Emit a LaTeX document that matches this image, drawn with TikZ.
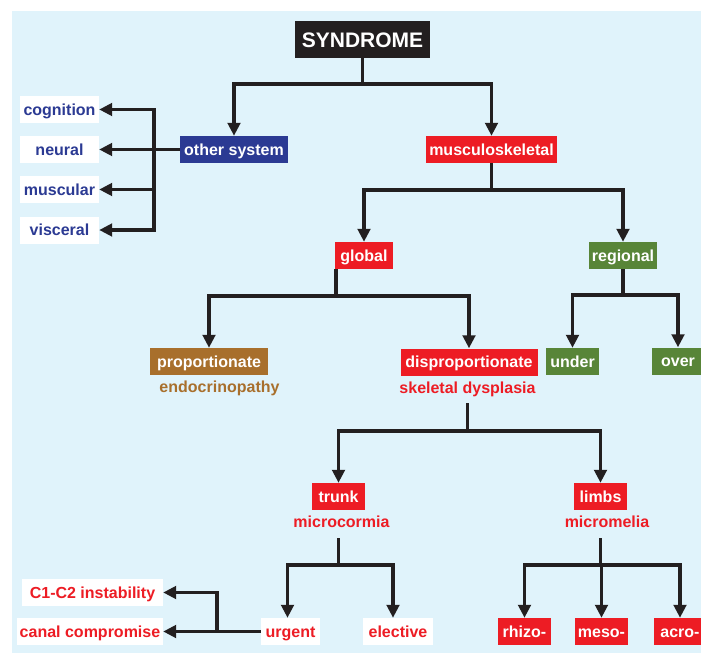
\documentclass[tikz,border=0pt]{standalone}
\usepackage{fontspec}
\setmainfont{Liberation Sans}
\usetikzlibrary{arrows.meta}
\definecolor{bgblue}{HTML}{E0F3FB}
\definecolor{navy}{HTML}{2B3A93}
\definecolor{msred}{HTML}{ED1C24}
\definecolor{leafgreen}{HTML}{588538}
\definecolor{ochre}{HTML}{A86F2C}
\definecolor{ink}{HTML}{231F20}

\begin{document}
\begin{tikzpicture}[x=1pt,y=-1pt,line join=miter,
  box/.style={rectangle,inner sep=0pt,minimum height=27pt,text height=12pt,text depth=1pt,font=\fontsize{16}{18}\selectfont\bfseries},
  red box/.style={box,fill=msred,text=white},
  green box/.style={box,fill=leafgreen,text=white},
  blue box/.style={box,fill=navy,text=white},
  white box/.style={box,fill=white},
  note/.style={inner sep=0pt,font=\fontsize{16}{18}\selectfont\bfseries},
  link/.style={draw=ink,line width=3.7pt},
  arrow/.style={link,-{Triangle[width=12.5pt,length=13pt]}}]
\useasboundingbox (0,0) rectangle (701,653);
\fill[bgblue] (12,11) rectangle (701,653);
% top level
\node[box,fill=ink,text=white,minimum width=135pt,minimum height=37pt,text height=15pt,text depth=0pt,font=\fontsize{21}{24}\selectfont\bfseries] (syn) at (362.5,39.5) {SYNDROME};
\node[blue box,minimum width=108pt] (other) at (234,149.5) {other system};
\node[red box,minimum width=131pt] (musc) at (491.5,149.5) {musculoskeletal};
% other systems
\node[white box,text=navy,minimum width=79pt] (cog) at (59.5,109.5) {cognition};
\node[white box,text=navy,minimum width=79pt] (neur) at (59.5,149.5) {neural};
\node[white box,text=navy,minimum width=79pt] (muscl) at (59.5,189.5) {muscular};
\node[white box,text=navy,minimum width=79pt] (visc) at (59.5,230) {visceral};
% musculoskeletal
\node[red box,minimum width=58pt] (glob) at (364,255.5) {global};
\node[green box,minimum width=68pt] (reg) at (623,255.5) {regional};
\node[box,fill=ochre,text=white,minimum width=118pt] (prop) at (209,361.5) {proportionate};
\node[note,text=ochre] (endo) at (219.5,388.5) {endocrinopathy};
\node[red box,minimum width=137pt] (disp) at (469,362) {disproportionate};
\node[note,text=msred] (skel) at (467.5,389.5) {skeletal dysplasia};
\node[green box,minimum width=53pt] (under) at (572.5,361.5) {under};
\node[green box,minimum width=52pt] (over) at (678,361) {over};
% dysplasia
\node[red box,minimum width=53pt] (trunk) at (338.5,496.5) {trunk};
\node[note,text=msred] (mcor) at (341.5,522) {microcormia};
\node[red box,minimum width=53pt] (limb) at (600.5,496.5) {limbs};
\node[note,text=msred] (mmel) at (607,521.5) {micromelia};
\node[white box,text=msred,minimum width=59pt] (urg) at (290.5,631.5) {urgent};
\node[white box,text=msred,minimum width=70pt] (elec) at (398,631.5) {elective};
\node[red box,minimum width=53pt] (rhizo) at (524.5,631.5) {rhizo-};
\node[red box,minimum width=53pt] (meso) at (601.5,631.5) {meso-};
\node[red box,minimum width=52pt] (acro) at (680,631.5) {acro-};
\node[white box,text=msred,minimum width=141pt] (c1) at (92.5,592.5) {C1-C2 instability};
\node[white box,text=msred,minimum width=146pt] (canal) at (90,631.5) {canal compromise};
% connectors
\draw[link] (syn.south) -- ++(0,26) coordinate (synbar);
\draw[arrow] (synbar) -| (other.north);
\draw[arrow] (synbar) -| (musc.north);
\path (other.west) ++(-26,0) coordinate (obus);
\draw[arrow] (other.west) -- (neur.east);
\draw[arrow] (obus) |- (cog.east);
\draw[arrow] (obus) |- (visc.east);
\draw[arrow] (obus |- muscl.east) -- (muscl.east);
\draw[link] (musc.south) -- ++(0,27) coordinate (muscbar);
\draw[arrow] (muscbar) -| (glob.north);
\draw[arrow] (muscbar) -| (reg.north);
\draw[link] ([xshift=1.5pt]glob.south west) -- ++(0,27) coordinate (globbar);
\draw[arrow] (globbar) -| (prop.north);
\draw[arrow] (globbar) -| (disp.north);
\draw[link] (reg.south) -- ++(0,26) coordinate (regbar);
\draw[arrow] (regbar) -| (under.north);
\draw[arrow] (regbar) -| (over.north);
\draw[link] (skel.south) ++(0,6) -- ++(0,28) coordinate (skelbar);
\draw[arrow] (skelbar) -| (trunk.north);
\draw[arrow] (skelbar) -| (limb.north);
\draw[link] (trunk.south |- mcor.south) ++(0,10) -- ++(0,27) coordinate (mcorbar);
\draw[arrow] (mcorbar) -| ([xshift=-3pt]urg.north);
\draw[arrow] (mcorbar) -| ([xshift=-5pt]elec.north);
\draw[link] (limb.south |- mmel.south) ++(0,10.5) -- ++(0,27) coordinate (mmelbar);
\draw[arrow] (mmelbar) -| (rhizo.north);
\draw[arrow] (mmelbar) -| (meso.north);
\draw[arrow] (mmelbar) -| (acro.north);
\path (urg.west) ++(-44,0) coordinate (ubus);
\draw[arrow] (urg.west) -- (canal.east);
\draw[arrow] (ubus) |- (c1.east);
\end{tikzpicture}
\end{document}
